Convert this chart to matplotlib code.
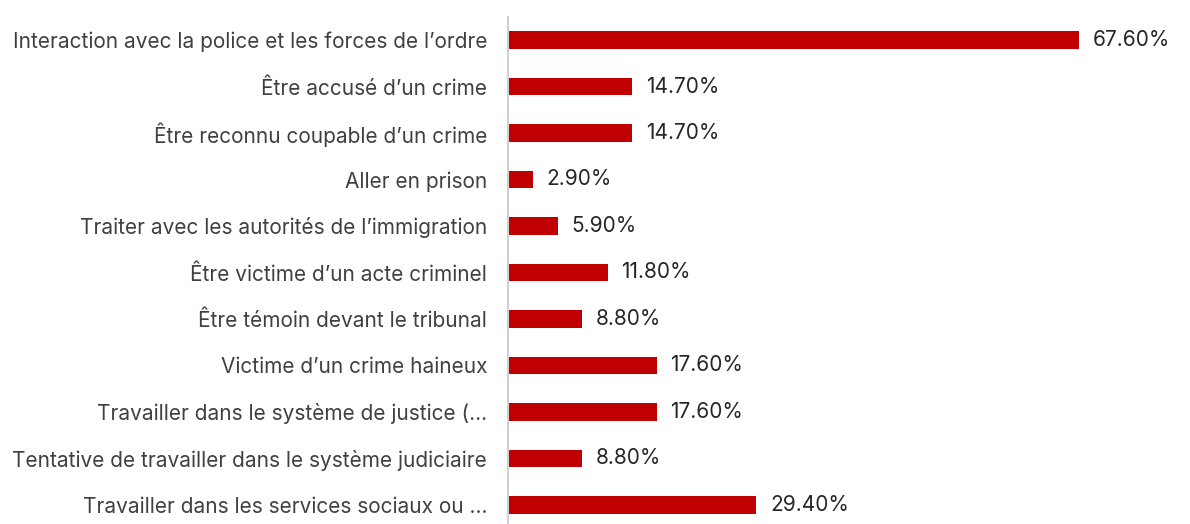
import matplotlib.pyplot as plt

categories = [
    "Interaction avec la police et les forces de l\u2019ordre",
    "\u00catre accus\u00e9 d\u2019un crime",
    "\u00catre reconnu coupable d\u2019un crime",
    "Aller en prison",
    "Traiter avec les autorit\u00e9s de l\u2019immigration",
    "\u00catre victime d\u2019un acte criminel",
    "\u00catre t\u00e9moin devant le tribunal",
    "Victime d\u2019un crime haineux",
    "Travailler dans le syst\u00e8me de justice (...",
    "Tentative de travailler dans le syst\u00e8me judiciaire",
    "Travailler dans les services sociaux ou ...",
]
values = [67.6, 14.7, 14.7, 2.9, 5.9, 11.8, 8.8, 17.6, 17.6, 8.8, 29.4]

plt.rcParams['font.family'] = ['Inter', 'DejaVu Sans']

fig = plt.figure(figsize=(11.9, 5.24), dpi=100)
ax = fig.add_axes([508 / 1190, 0, 676 / 1190, 507 / 524])

pos = list(range(len(categories)))
ax.barh(pos, values, height=0.37, color='#C00000')
for p, v in zip(pos, values):
    ax.text(v + 1.6, p, f"{v:.2f}%", va='center', ha='left',
            fontsize=15, color='#262626')

ax.set_xlim(0, 80)
ax.set_ylim(10.41, -0.495)
ax.set_yticks(pos)
ax.set_yticklabels(categories, fontsize=15, color='#404040')
ax.tick_params(axis='y', length=0, pad=15)
ax.set_xticks([])
for s in ['top', 'right', 'bottom']:
    ax.spines[s].set_visible(False)
ax.spines['left'].set_color('#D0D0D0')
ax.spines['left'].set_linewidth(1.5)

fig.savefig('out.png', dpi=100)
